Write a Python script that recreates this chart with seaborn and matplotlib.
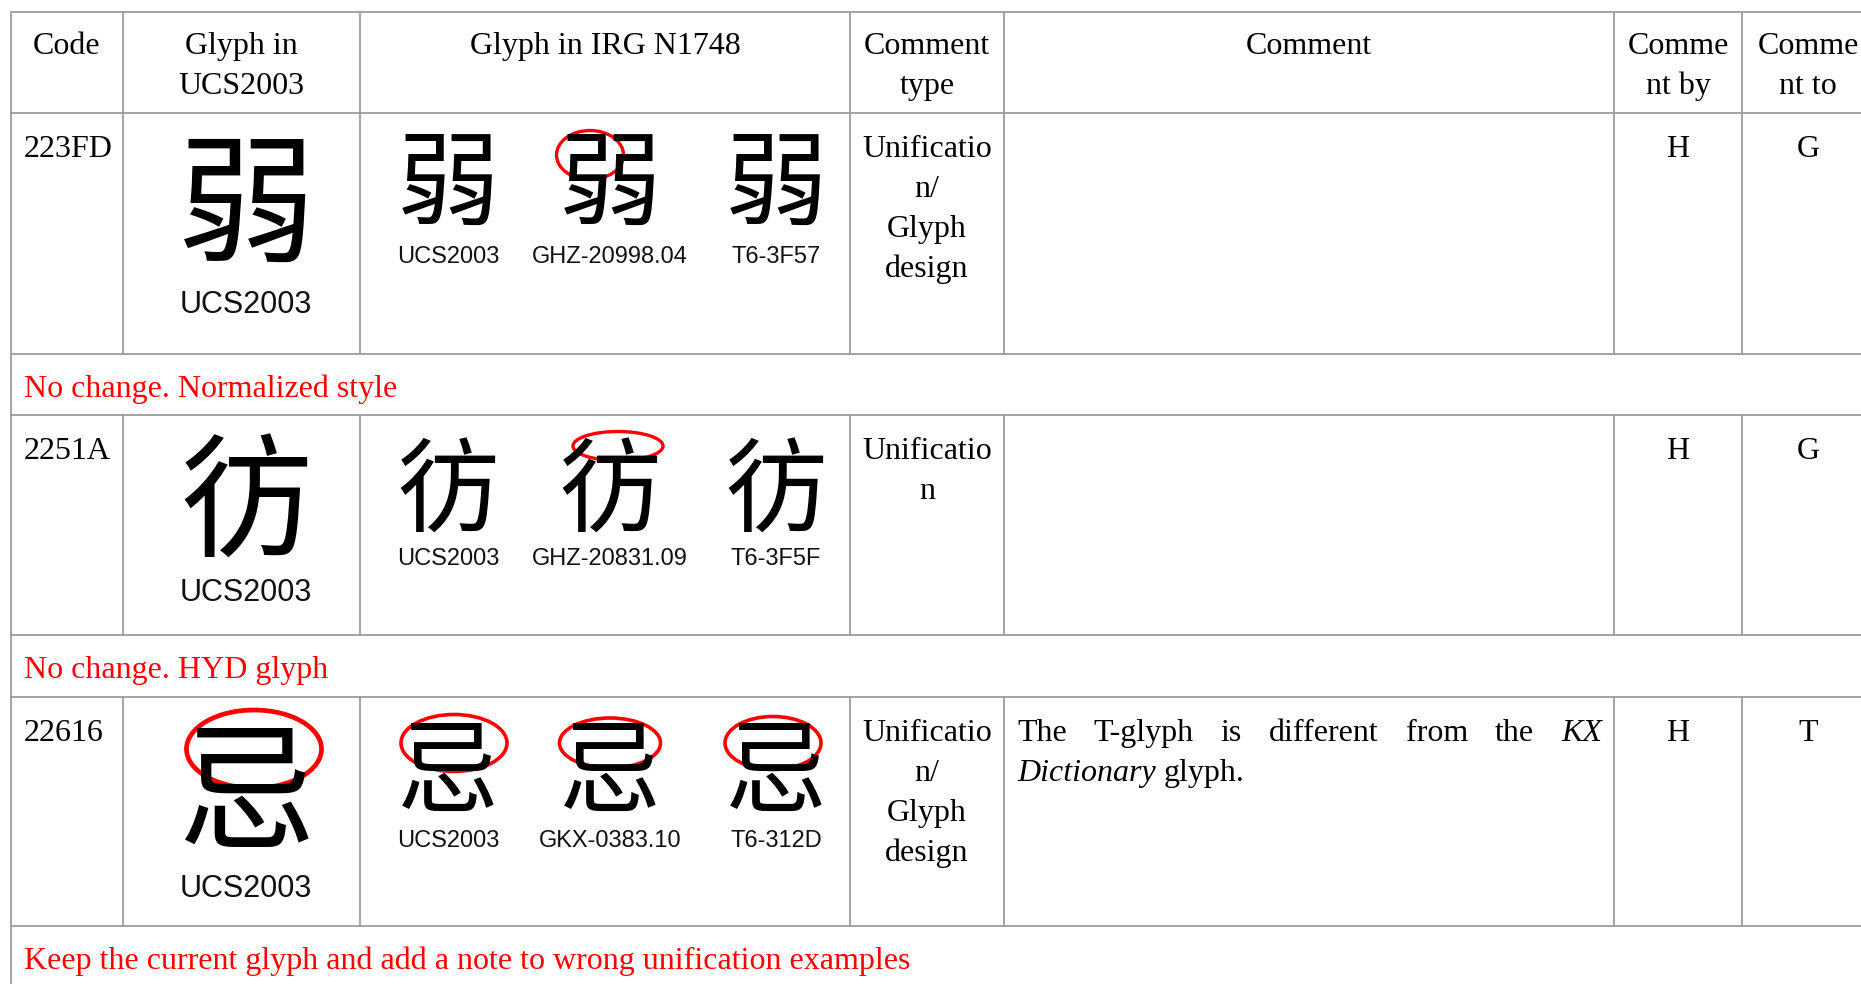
import matplotlib
matplotlib.use('Agg')
import matplotlib.pyplot as plt
from matplotlib.patches import Ellipse
from matplotlib import font_manager
from matplotlib.ft2font import FT2Font
import seaborn as sns

# table content
headers = [["Code"], ["Glyph in", "UCS2003"], ["Glyph in IRG N1748"],
           ["Comment", "type"], ["Comment"], ["Comme", "nt by"], ["Comme", "nt to"]]
codes = ["223FD", "2251A", "22616"]
code_points = [0x223FD, 0x2251A, 0x22616]
fallback_chars = ["弱", "彷", "忌"]   # used when no installed font has the Ext-B glyph
sources = [["UCS2003", "GHZ-20998.04", "T6-3F57"],
           ["UCS2003", "GHZ-20831.09", "T6-3F5F"],
           ["UCS2003", "GKX-0383.10", "T6-312D"]]
comment_types = [["Unificatio", "n/", "Glyph", "design"],
                 ["Unificatio", "n"],
                 ["Unificatio", "n/", "Glyph", "design"]]
comments = ["", "", "The T-glyph is different from the KX Dictionary glyph."]
italic_words = ["KX", "Dictionary"]
comment_by = ["H", "H", "H"]
comment_to = ["G", "G", "T"]
decisions = ["No change. Normalized style",
             "No change. HYD glyph",
             "Keep the current glyph and add a note to wrong unification examples"]
# which glyphs carry a red circle: (row, slot), slot -1 = big glyph
circled = [(0, 1), (1, 1), (2, -1), (2, 0), (2, 1), (2, 2)]

# layout in pixels
W, H = 1861, 984
col_edges = [11, 123, 360, 850, 1004, 1614, 1742, 1872]
header_top, header_bot = 12, 113
row_tops = [113, 415, 697]
row_bots = [354, 635, 926]
small_x = [448, 610, 776]
big_x = 246
big_label_dy = [200, 186, 200]
big_glyph_dy = [99, 94, 103]
big_size = [100, 96, 100]
small_glyph_dy = [75, 80, 78]

sns.set_theme(style="white")
plt.rcParams['font.family'] = ['Liberation Serif', 'DejaVu Serif']
plt.rcParams['text.color'] = 'black'

cjk_families = ['Noto Sans CJK TC', 'Noto Sans CJK JP', 'Noto Sans CJK SC', 'Noto Sans CJK KR']


def pick_glyph(cp, fallback):
    for fam in cjk_families:
        try:
            path = font_manager.findfont(font_manager.FontProperties(family=fam),
                                         fallback_to_default=False)
            if FT2Font(str(path)).get_char_index(cp) != 0:
                return chr(cp), fam
        except Exception:
            pass
    return fallback, 'Noto Sans CJK TC'


glyphs = [pick_glyph(cp, fb) for cp, fb in zip(code_points, fallback_chars)]

fig = plt.figure(figsize=(W / 100, H / 100), dpi=100)
ax = fig.add_axes([0, 0, 1, 1])
ax.set_xlim(0, W)
ax.set_ylim(H, 0)
ax.axis('off')

line_kw = dict(color='#9c9c9c', lw=1.3)
body = 23
red = '#ff0000'
label_col = '#111111'

# grid
for y in [header_top, header_bot] + row_tops[1:] + row_bots:
    ax.plot([col_edges[0], W], [y, y], **line_kw)
ax.plot([col_edges[0]] * 2, [header_top, H], **line_kw)
for top, bot in [(header_top, header_bot)] + list(zip(row_tops, row_bots)):
    for x in col_edges[1:-1]:
        ax.plot([x, x], [top, bot], **line_kw)

centers = [(a + b) / 2 for a, b in zip(col_edges[:-1], col_edges[1:])]
centers[-1] = 1808

# header
for cx, lines in zip(centers, headers):
    for k, t in enumerate(lines):
        ax.text(cx, 54 + 40 * k, t, ha='center', va='baseline', fontsize=body)

fig.canvas.draw()
renderer = fig.canvas.get_renderer()


def text_width(t, **kw):
    obj = ax.text(0, 0, t, fontsize=body, **kw)
    w = obj.get_window_extent(renderer).width
    obj.remove()
    return w


for i in range(3):
    top = row_tops[i]
    base = top + 44
    ax.text(24, base, codes[i], ha='left', va='baseline', fontsize=body)

    ch, fam = glyphs[i]
    ax.text(big_x, top + big_glyph_dy[i], ch, ha='center', va='center',
            fontsize=big_size[i], family=[fam, 'DejaVu Sans'])
    ax.text(big_x, top + big_label_dy[i], "UCS2003", ha='center', va='baseline',
            fontsize=22, family='Liberation Sans', color=label_col)
    for j, src in enumerate(sources[i]):
        ax.text(small_x[j], top + small_glyph_dy[i], ch, ha='center', va='center',
                fontsize=74, family=[fam, 'DejaVu Sans'])
        ax.text(small_x[j], top + 150, src, ha='center', va='baseline',
                fontsize=17, family='Liberation Sans', color=label_col)

    for k, t in enumerate(comment_types[i]):
        ax.text(centers[3], base + 40 * k, t, ha='center', va='baseline', fontsize=body)
    ax.text(centers[5], base, comment_by[i], ha='center', va='baseline', fontsize=body)
    ax.text(centers[6], base, comment_to[i], ha='center', va='baseline', fontsize=body)

    # justified comment text
    if comments[i]:
        left, right = col_edges[4] + 13, col_edges[5] - 12
        words = comments[i].split()
        styles = ['italic' if w in italic_words else 'normal' for w in words]
        widths = [text_width(w, style=s) for w, s in zip(words, styles)]
        space = text_width("a a") - text_width("aa")
        lines, cur = [], []
        for w in range(len(words)):
            trial = cur + [w]
            tot = sum(widths[k] for k in trial) + space * (len(trial) - 1)
            if tot > right - left and cur:
                lines.append(cur)
                cur = [w]
            else:
                cur = trial
        lines.append(cur)
        for n, ln in enumerate(lines):
            last = n == len(lines) - 1
            total = sum(widths[k] for k in ln)
            gap = space if last or len(ln) == 1 else (right - left - total) / (len(ln) - 1)
            x = left
            for k in ln:
                ax.text(x, base + 40 * n, words[k], ha='left', va='baseline',
                        fontsize=body, style=styles[k])
                x += widths[k] + gap

    # decision row
    ax.text(24, row_bots[i] + 43, decisions[i], ha='left', va='baseline',
            fontsize=body, color=red)

# red circles
for r, s in circled:
    top = row_tops[r]
    if s < 0:
        ax.add_patch(Ellipse((254, top + 52), 135, 78, fill=False, ec=red, lw=3.4))
    elif r == 0:
        ax.add_patch(Ellipse((small_x[s] - 20, top + 42), 67, 49, fill=False, ec=red, lw=2.4))
    elif r == 1:
        ax.add_patch(Ellipse((small_x[s] + 8, top + 31), 90, 29, fill=False, ec=red, lw=2.4))
    else:
        ax.add_patch(Ellipse((small_x[s] + [6, 0, -3][s], top + 46), [106, 101, 96][s],
                             [57, 50, 53][s], fill=False, ec=red, lw=2.6))

fig.savefig('out.png', dpi=100)
